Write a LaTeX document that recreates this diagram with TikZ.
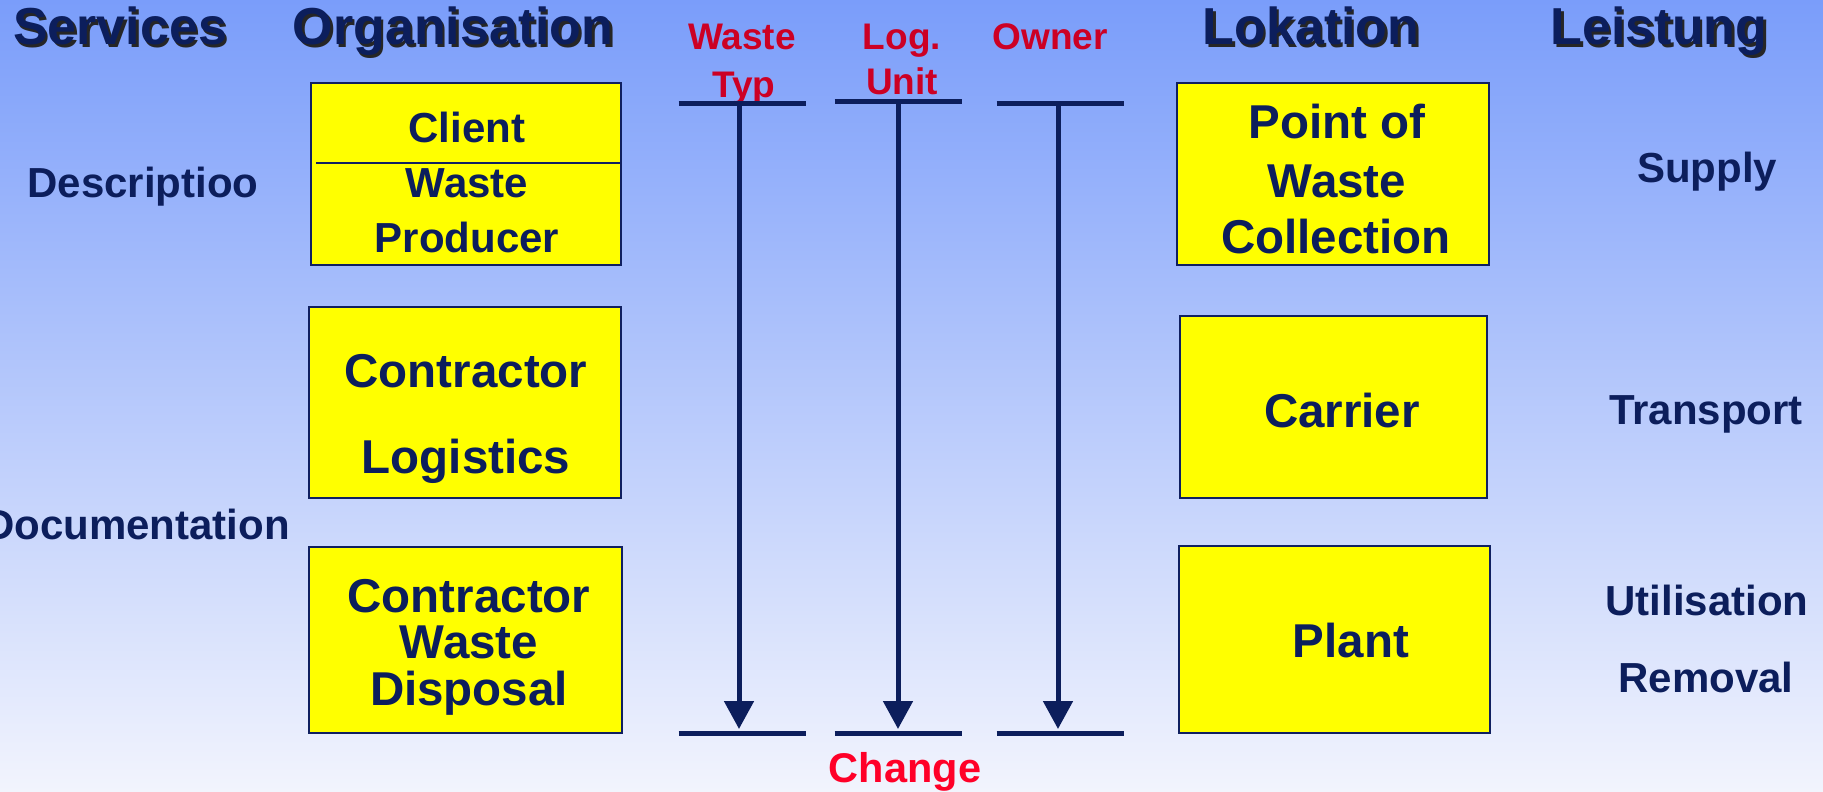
\documentclass[tikz,border=0pt]{standalone}
\usepackage{fontspec}
\setmainfont{Liberation Sans}
\usetikzlibrary{arrows.meta}

\definecolor{txtblue}{RGB}{12,30,92}
\definecolor{boxline}{RGB}{16,32,96}
\definecolor{boxyellow}{RGB}{255,255,0}
\definecolor{labred}{RGB}{204,0,36}
\definecolor{chgred}{RGB}{255,0,40}
\definecolor{bgtop}{RGB}{122,157,250}
\definecolor{bgbot}{RGB}{242,244,253}

\begin{document}
\begin{tikzpicture}[x=1pt,y=-1pt,
 head/.style={font=\bfseries\fontsize{52}{60}\selectfont,text=txtblue,anchor=base,inner sep=0},
 headshade/.style={head,text=black!85},
 box/.style={draw=boxline,line width=2pt,fill=boxyellow,inner sep=0},
 boxtext/.style={font=\bfseries\fontsize{47.5}{52}\selectfont,text=txtblue,anchor=base,inner sep=0},
 side/.style={font=\bfseries\fontsize{42}{48}\selectfont,text=txtblue,anchor=base,inner sep=0},
 redlab/.style={font=\bfseries\fontsize{37}{40}\selectfont,text=labred,anchor=base,inner sep=0},
 bar/.style={draw=txtblue,line width=5pt},
 flow/.style={draw=txtblue,line width=5pt,-{Triangle[width=29pt,length=28pt]}}]
 \useasboundingbox (0,0) rectangle (1823,792);
 \fill[top color=bgtop,bottom color=bgbot] (0,0) rectangle (1823,792);

 % headers
 \foreach \x/\n/\t in {120/services/Services,453/orga/Organisation,1311/lok/Lokation,1659/leistung/Leistung}{
  \node[headshade] (\n s) at (\x+2.5,47.5) {\t};
  \node[head] (\n) at (\x,45) {\t};
 }

 % services
 \node[side] (descr) at (143,197) {Descriptioo};
 \node[side] (docu) at (137,539) {Documentation};

 % organisation
 \node[box,minimum width=310pt,minimum height=182pt] (client) at (466,174) {};
 \draw[boxline,line width=2pt] (316,163) -- (621,163);
 \node[side] (cl1) at (467,142) {Client};
 \node[side] (cl2) at (467,197) {Waste};
 \node[side] (cl3) at (467,252) {Producer};

 \node[box,minimum width=312pt,minimum height=191pt] (logi) at (465,402.5) {};
 \node[boxtext] (lo1) at (466,387) {Contractor};
 \node[boxtext] (lo2) at (466,473) {Logistics};

 \node[box,minimum width=313pt,minimum height=186pt] (disp) at (465.5,640) {};
 \node[boxtext] (di1) at (469,612) {Contractor};
 \node[boxtext] (di2) at (469,658) {Waste};
 \node[boxtext] (di3) at (469,705) {Disposal};

 % waste typ, log. unit, owner
 \node[redlab] (wt1) at (742,50) {Waste};
 \node[redlab] (wt2) at (744,97) {Typ};
 \node[redlab] (lu1) at (902,50) {Log.};
 \node[redlab] (lu2) at (902,95) {Unit};
 \node[redlab] (ow1) at (1050,50) {Owner};
 \foreach \x/\y/\v/\n in {742/103/739/wt,898/101/898/lu,1060/103/1058/ow}{
  \draw[bar] (\x-63.5,\y) -- (\x+63.5,\y);
  \draw[bar] (\x-63.5,733) -- (\x+63.5,733);
  \coordinate (\n top) at (\v,\y+3);
  \coordinate (\n bot) at (\v,729);
  \draw[flow] (\n top) -- (\n bot);
 }
 \node[redlab,text=chgred,font=\bfseries\fontsize{41.5}{46}\selectfont] (change) at (905,782) {Change};

 % lokation
 \node[box,minimum width=312pt,minimum height=182pt] (point) at (1333,174) {};
 \node[boxtext] (po1) at (1337,138) {Point of};
 \node[boxtext] (po2) at (1337,197) {Waste};
 \node[boxtext] (po3) at (1336,253) {Collection};

 \node[box,minimum width=307pt,minimum height=182pt] (carr) at (1333.5,407) {};
 \node[boxtext] (ca1) at (1342,427) {Carrier};

 \node[box,minimum width=311pt,minimum height=187pt] (plant) at (1334.5,639.5) {};
 \node[boxtext] (pl1) at (1351,657) {Plant};

 % leistung
 \node[side] (supply) at (1707,182) {Supply};
 \node[side] (transp) at (1706,424) {Transport};
 \node[side] (util) at (1707,615) {Utilisation};
 \node[side] (remov) at (1706,692) {Removal};
\end{tikzpicture}
\end{document}
